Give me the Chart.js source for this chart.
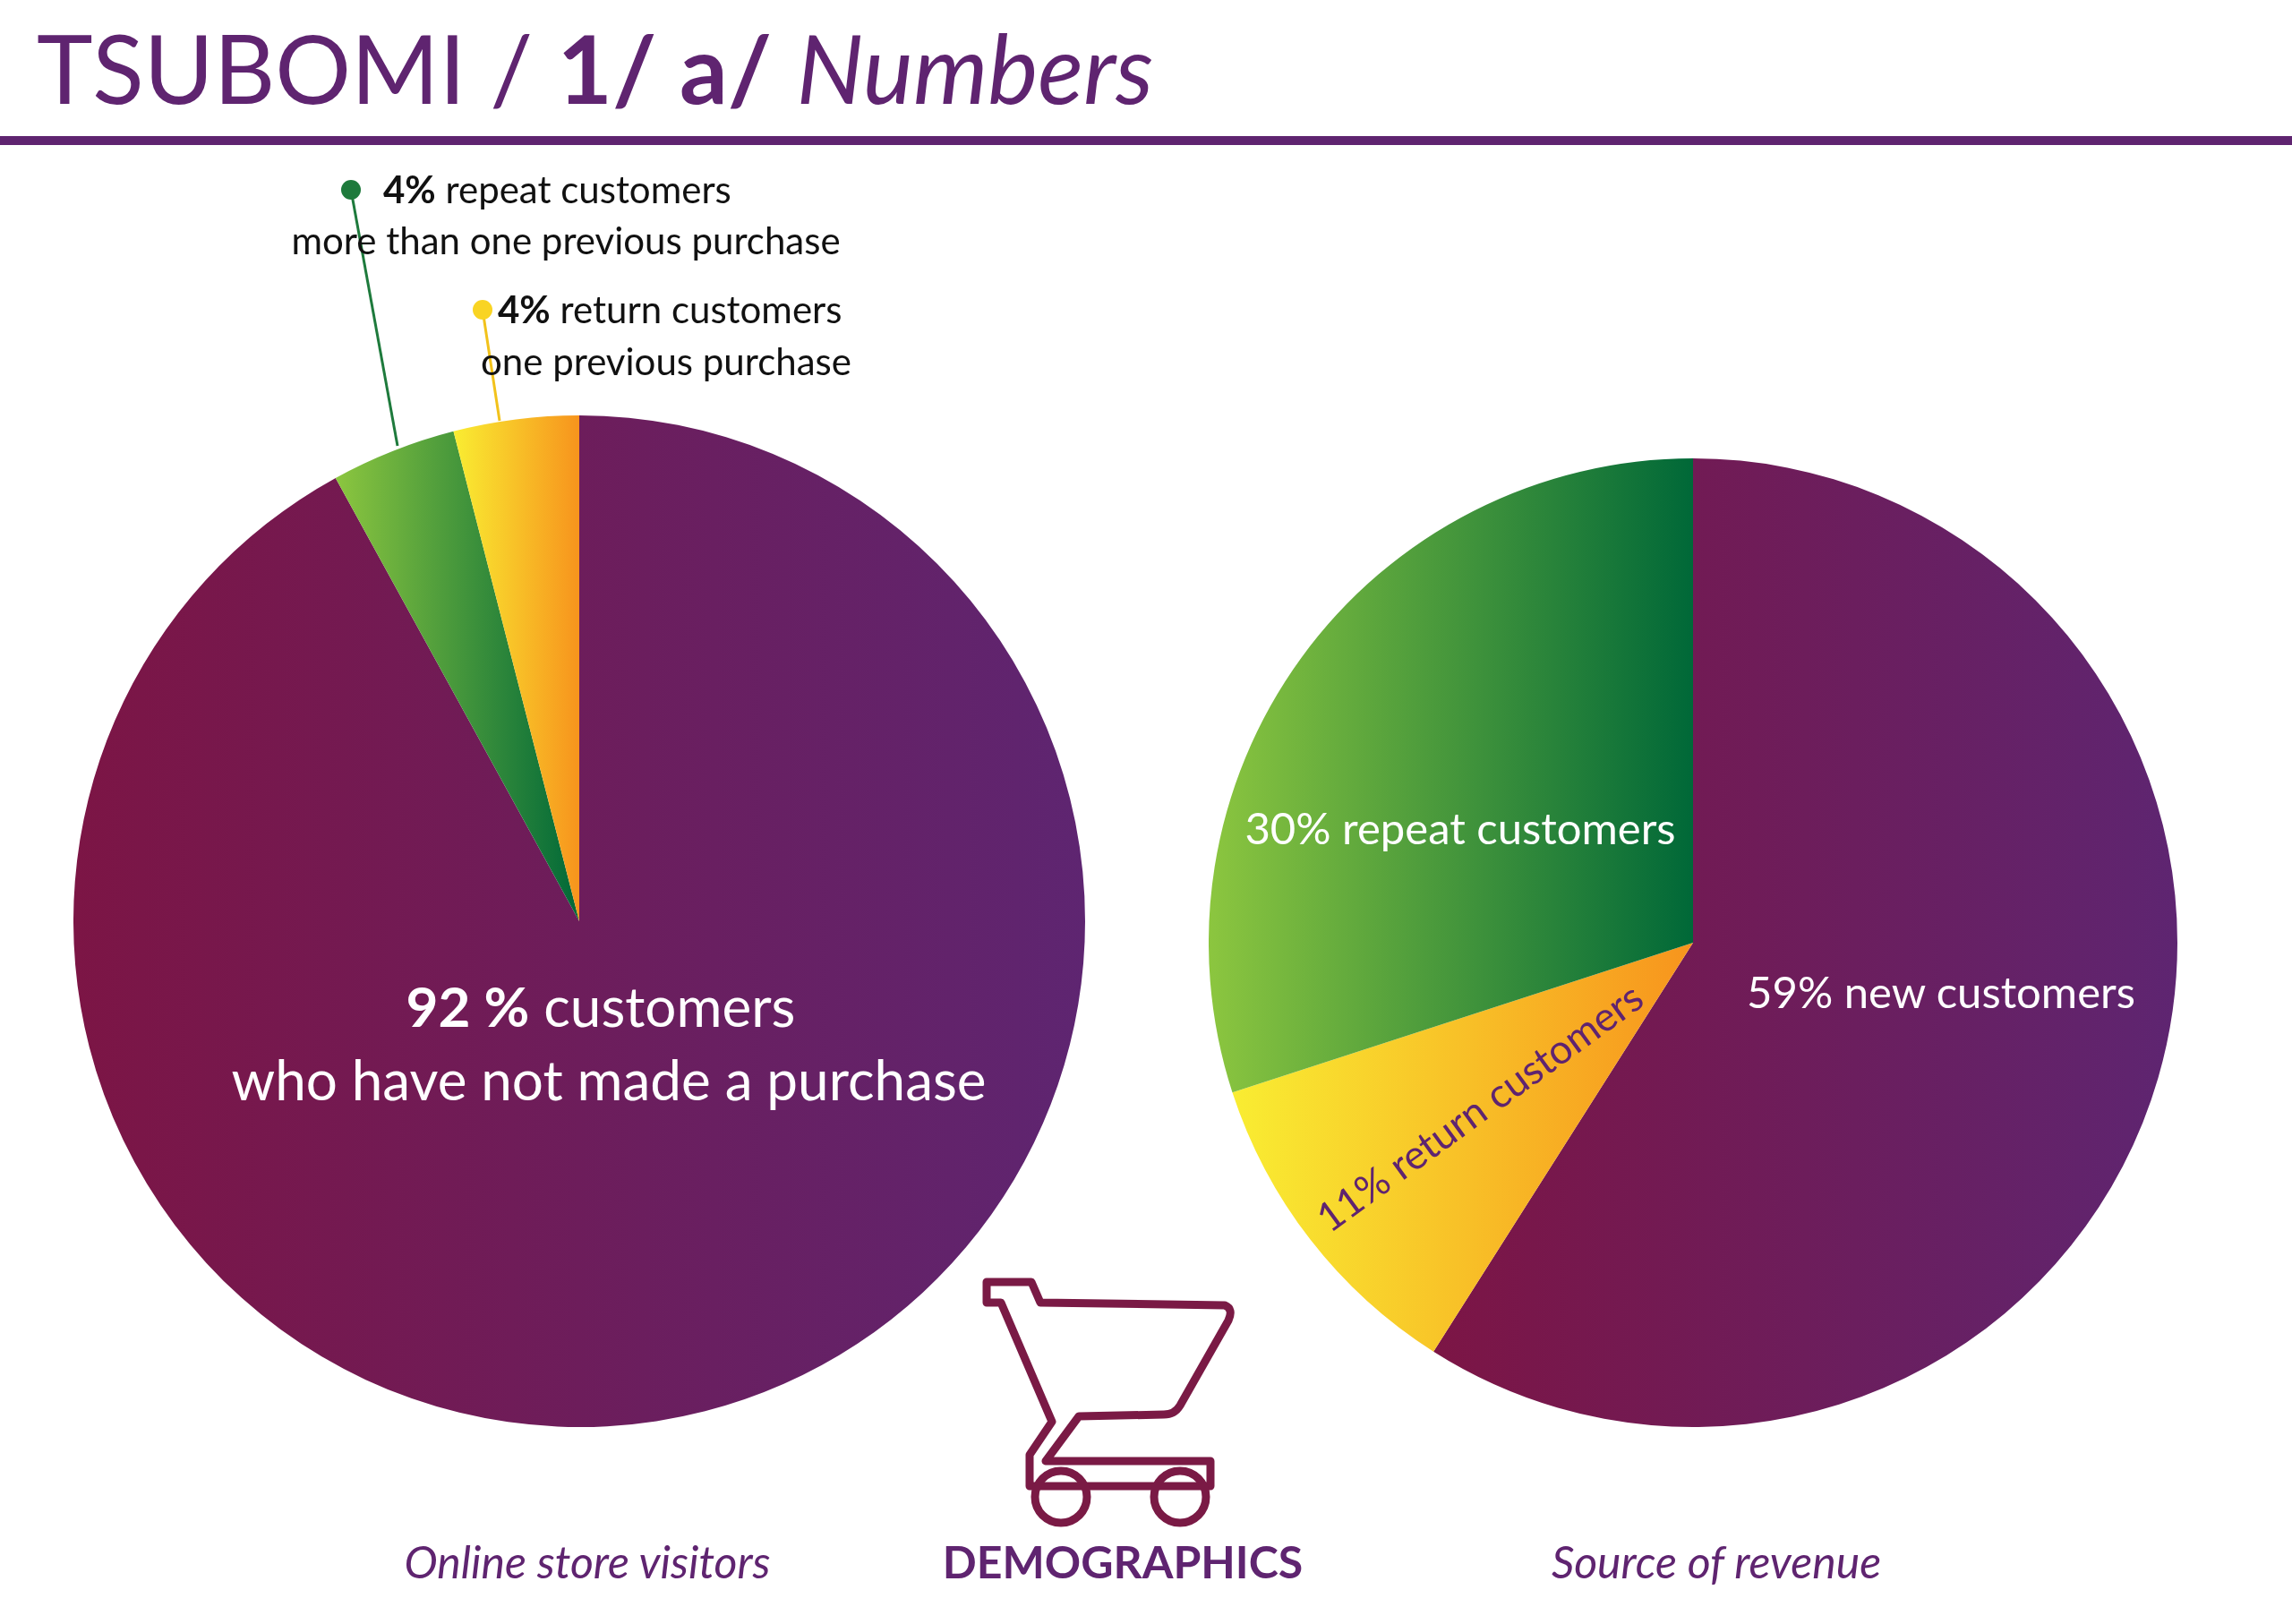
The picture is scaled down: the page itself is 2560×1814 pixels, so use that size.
<!DOCTYPE html>
<html>
<head>
<meta charset="utf-8">
<script src="https://cdn.jsdelivr.net/npm/chart.js@4/dist/chart.umd.min.js"></script>
<style>
  body { margin: 0; background: #fff; font-family: Lato, "Open Sans", sans-serif; }
  #page { position: relative; width: 2560px; height: 1814px; overflow: hidden; background: #fff; }
  .abs { position: absolute; white-space: nowrap; }
  .pie { position: absolute; }
  .c { transform: translate(-50%, -50%); }
</style>
</head>
<body>
<div id="page">
  <div class="abs" style="left:41px; top:22px; font-size:106px; color:#5f2470; line-height:1;">TSUBOMI / <b>1/ a/</b> <i>Numbers</i></div>
  <div class="abs" style="left:0; top:152px; width:2560px; height:10px; background:#5f2470;"></div>

  <div class="pie" style="left:82px; top:464px; width:1130px; height:1130px;"><canvas id="visitors"></canvas></div>
  <div class="pie" style="left:1350px; top:512px; width:1082px; height:1082px;"><canvas id="revenue"></canvas></div>

  <svg class="abs" style="left:0; top:0;" width="2560" height="1814">
    <line x1="392" y1="212" x2="444" y2="498" stroke="#1e7a3c" stroke-width="3"/>
    <circle cx="392" cy="212" r="11" fill="#1e7a3c"/>
    <line x1="539" y1="346" x2="558" y2="470" stroke="#f2c21b" stroke-width="3"/>
    <circle cx="539" cy="346" r="11" fill="#f9d423"/>
    <g fill="none" stroke="#7a1a45" stroke-width="9" stroke-linejoin="round">
      <path d="M1102 1432 L1152 1432 L1162 1455 L1368 1458 Q1378 1462 1372 1475 L1318 1570 Q1312 1580 1300 1580 L1205 1582 L1168 1632 L1352 1632 L1352 1660 L1150 1660 L1150 1625 L1175 1588 L1118 1455 L1102 1455 Z"/>
      <circle cx="1185" cy="1672" r="29"/>
      <circle cx="1318" cy="1672" r="29"/>
    </g>
  </svg>

  <div class="abs" style="left:428px; top:186px; font-size:42px; color:#111;"><b>4%</b> repeat customers</div>
  <div class="abs c" style="left:632px; top:268px; font-size:42px; color:#111;">more than one previous purchase</div>
  <div class="abs" style="left:556px; top:320px; font-size:42px; color:#111;"><b>4%</b> return customers</div>
  <div class="abs" style="left:537px; top:378px; font-size:42px; color:#111;">one previous purchase</div>

  <div class="abs c" style="left:671px; top:1123px; font-size:62px; color:#fff;"><b>92 %</b> customers</div>
  <div class="abs c" style="left:680px; top:1205px; font-size:62px; color:#fff;">who have not made a purchase</div>

  <div class="abs c" style="left:1631px; top:924px; font-size:49px; color:#fff;">30% repeat customers</div>
  <div class="abs c" style="left:2168px; top:1107px; font-size:49px; color:#fff;">59% new customers</div>
  <div class="abs c" style="left:1652px; top:1236px; font-size:45px; color:#5f2470; transform: translate(-50%,-50%) rotate(-36deg);">11% return customers</div>

  <div class="abs c" style="left:656px; top:1744px; font-size:50px; color:#5f2470;"><i>Online store visitors</i></div>
  <div class="abs c" style="left:1254px; top:1744px; font-size:50px; color:#5f2470;"><b>DEMOGRAPHICS</b></div>
  <div class="abs c" style="left:1917px; top:1744px; font-size:50px; color:#5f2470;"><i>Source of revenue</i></div>
</div>

<script>
// Online store visitors
const visitorLabels = ['No purchase', 'Repeat customers', 'Return customers'];
const visitorValues = [92, 4, 4];
// Source of revenue
const revenueLabels = ['New customers', 'Return customers', 'Repeat customers'];
const revenueValues = [59, 11, 30];

const gradientStops = {
    purple: ['#7c1545', '#5e2571'],
    green: ['#8cc63f', '#006838'],
    yellow: ['#f9ed32', '#f7941d']
};

// horizontal extent of a slice, angles measured clockwise from 12 o'clock
function sliceXExtent(cx, r, a0, a1) {
    const xs = [cx, cx + r * Math.sin(a0), cx + r * Math.sin(a1)];
    if (a0 < Math.PI / 2 && a1 > Math.PI / 2) xs.push(cx + r);
    if (a0 < 1.5 * Math.PI && a1 > 1.5 * Math.PI) xs.push(cx - r);
    return [Math.min(...xs), Math.max(...xs)];
}

function sliceGradient(values, colours) {
    return function(ctx) {
        const chart = ctx.chart;
        const area = chart.chartArea;
        if (!area) return colours[ctx.dataIndex][0];
        const total = values.reduce((a, b) => a + b, 0);
        let before = 0;
        for (let i = 0; i < ctx.dataIndex; i++) before += values[i];
        const a0 = before / total * 2 * Math.PI;
        const a1 = (before + values[ctx.dataIndex]) / total * 2 * Math.PI;
        const cx = (area.left + area.right) / 2;
        const r = Math.min(area.right - area.left, area.bottom - area.top) / 2;
        const [x0, x1] = sliceXExtent(cx, r, a0, a1);
        const g = chart.ctx.createLinearGradient(x0, 0, x1, 0);
        g.addColorStop(0, colours[ctx.dataIndex][0]);
        g.addColorStop(1, colours[ctx.dataIndex][1]);
        return g;
    };
}

function makePie(id, labels, values, colours) {
    new Chart(document.getElementById(id), {
        type: 'pie',
        data: {
            labels: labels,
            datasets: [{
                data: values,
                backgroundColor: sliceGradient(values, colours),
                borderWidth: 0
            }]
        },
        options: {
            responsive: true,
            maintainAspectRatio: false,
            animation: false,
            layout: { padding: 0 },
            plugins: { legend: { display: false }, tooltip: { enabled: false } }
        }
    });
}

makePie('visitors', visitorLabels, visitorValues, [gradientStops.purple, gradientStops.green, gradientStops.yellow]);
makePie('revenue', revenueLabels, revenueValues, [gradientStops.purple, gradientStops.yellow, gradientStops.green]);
</script>
</body>
</html>
